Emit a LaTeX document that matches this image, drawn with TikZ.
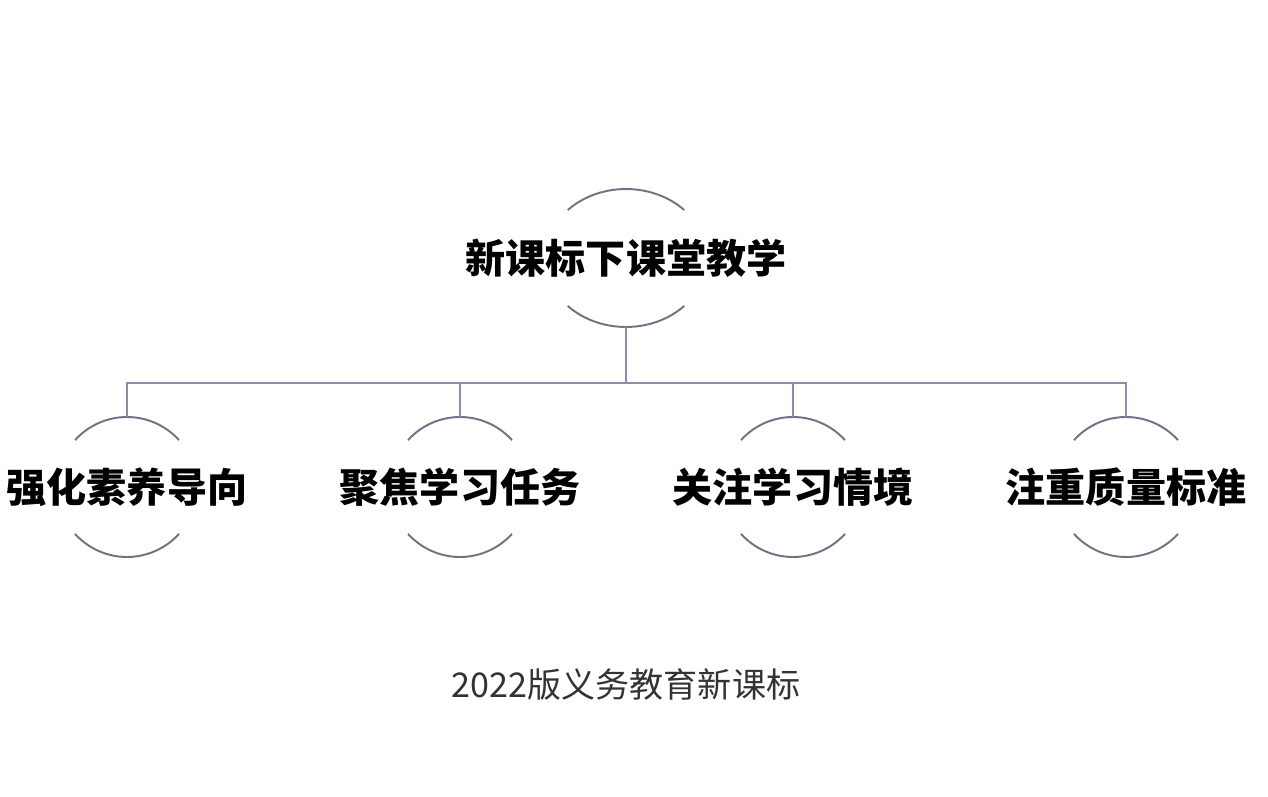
\documentclass[tikz,border=0pt]{standalone}
\usepackage{fontspec}
\newfontfamily\cjk{Noto Sans CJK SC}
\usetikzlibrary{shapes.geometric}
\definecolor{arcgray}{HTML}{6E7284}
\definecolor{linegray}{HTML}{8891A8}
\definecolor{capgray}{HTML}{333333}
\tikzset{
  topic/.style={ellipse,minimum width=3.24cm,minimum height=2.76cm,inner sep=0pt},
  point/.style={circle,minimum size=2.8cm,inner sep=0pt},
  bigtext/.style={inner sep=0pt,font=\cjk\bfseries\fontsize{22.8}{24}\selectfont},
  rim/.style={draw=arcgray,line width=1.1pt},
  link/.style={draw=linegray,line width=1.1pt}
}
\begin{document}
\begin{tikzpicture}[x=0.02cm,y=0.02cm]
  \useasboundingbox[fill=white] (0,0) rectangle (1268,796);

  % root
  \node[topic] (root) at (626,538) {};
  \node[bigtext] (root-t) at (root.center) {新课标下课堂教学};
  \draw[rim] ([shift={(44:81 and 69)}]root.center) arc[start angle=44,end angle=136,x radius=81,y radius=69];
  \draw[rim] ([shift={(224:81 and 69)}]root.center) arc[start angle=224,end angle=316,x radius=81,y radius=69];

  % children
  \foreach \x/\name/\txt in {127/c1/强化素养导向, 460/c2/聚焦学习任务, 793/c3/关注学习情境, 1126/c4/注重质量标准} {
    \node[point] (\name) at (\x,309) {};
    \node[bigtext] (\name-t) at (\name.center) {\txt};
    \draw[rim] ([shift={(42:70)}]\name.center) arc[start angle=42,end angle=138,radius=70];
    \draw[rim] ([shift={(222:70)}]\name.center) arc[start angle=222,end angle=318,radius=70];
  }

  % tree lines
  \coordinate (bus) at (root.south |- 0,413);
  \draw[link] (root.south) -- (bus);
  \foreach \name in {c1,c2,c3,c4}
    \draw[link] (bus) -| (\name.north);

  \node[text=capgray,font=\cjk\fontsize{19.4}{22}\selectfont] (caption) at (626,111) {2022版义务教育新课标};
\end{tikzpicture}
\end{document}
